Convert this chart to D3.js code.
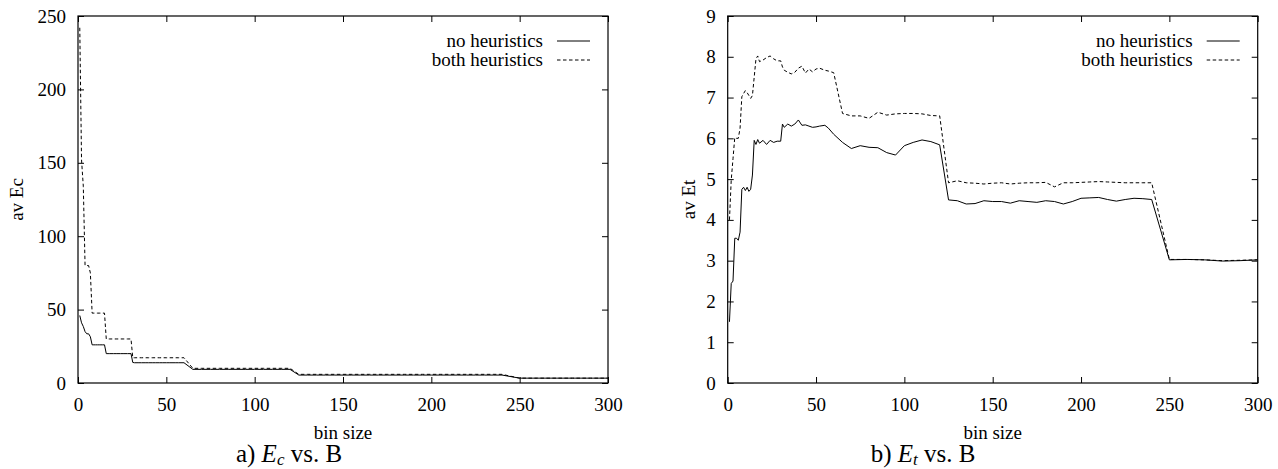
<!DOCTYPE html>
<html>
<head>
<meta charset="utf-8">
<script src="https://cdn.jsdelivr.net/npm/d3@7"></script>
<style>
  html, body { margin: 0; padding: 0; background: #fff; }
  svg { display: block; }
  svg text { font-family: 'Liberation Serif', 'DejaVu Serif', Times, serif !important; fill: #000; }
</style>
</head>
<body>
<svg id="chart" width="1278" height="469" font-family="Liberation Serif"></svg>
<script>
// ---------- data ----------
const binSizes = [1,2,3,4,5,6,7,8,9,10,11,12,13,14,15,16,17,18,20,22,24,26,28,30,31,32,34,36,38,40,42,44,46,48,50,52,55,57,60,
  65,70,75,80,85,90,95,100,105,110,115,120,125,130,135,140,145,150,155,160,165,170,175,180,185,190,195,200,205,210,215,220,225,230,235,240,
  250,260,270,280,290,300];

const noHeurEc = [46,41,38.5,35,33.5,33.5,31.5,26,26,26,26,26,26,26,26,20,20,20,20,20,20,20,20,20,14,13.8,13.8,13.8,13.8,13.8,13.8,13.8,13.8,13.8,13.8,13.8,13.8,13.8,13.8,
  9.3,9.3,9.3,9.3,9.3,9.3,9.3,9.3,9.3,9.3,9.3,9.3,5.4,5.4,5.4,5.4,5.4,5.4,5.4,5.4,5.4,5.4,5.4,5.4,5.4,5.4,5.4,5.4,5.4,5.4,5.4,5.4,5.4,5.4,5.4,5.4,
  3.3,3.3,3.3,3.3,3.3,3.3];

const bothHeurEc = [242,152,134,80,80,80,75,47.6,47.6,47.6,47.6,47.6,47.6,47.6,47.6,30,30,30,30,30,30,30,30,30,17.2,17.2,17.2,17.2,17.2,17.2,17.2,17.2,17.2,17.2,17.2,17.2,17.2,17.2,17.2,
  10,10,10,10,10,10,10,10,10,10,10,10,5.9,5.9,5.9,5.9,5.9,5.9,5.9,5.9,5.9,5.9,5.9,5.9,5.9,5.9,5.9,5.9,5.9,5.9,5.9,5.9,5.9,5.9,5.9,5.9,
  3.3,3.3,3.3,3.3,3.3,3.3];

const noHeurEt = [1.5,2.44,2.5,3.55,3.55,3.5,3.7,4.75,4.8,4.72,4.8,4.7,4.75,5.1,5.95,5.85,5.97,5.88,5.95,5.85,5.95,5.9,5.93,5.93,6.35,6.27,6.35,6.3,6.35,6.45,6.32,6.33,6.3,6.27,6.28,6.3,6.32,6.25,6.1,
  5.9,5.75,5.82,5.78,5.77,5.65,5.59,5.82,5.9,5.96,5.92,5.84,4.49,4.47,4.39,4.4,4.47,4.45,4.45,4.41,4.47,4.45,4.43,4.47,4.45,4.39,4.45,4.53,4.54,4.55,4.5,4.46,4.5,4.53,4.52,4.5,
  3.02,3.03,3.02,2.99,3.0,3.02];

const bothHeurEt = [4.0,4.98,5.5,6.02,6.0,6.0,6.25,7.02,7.1,7.17,7.12,7.05,6.98,7.05,7.5,7.95,8.02,7.88,7.92,7.98,8.02,7.95,7.9,7.9,7.75,7.67,7.62,7.58,7.62,7.72,7.77,7.6,7.7,7.63,7.7,7.72,7.67,7.65,7.61,
  6.61,6.55,6.55,6.49,6.64,6.57,6.6,6.61,6.61,6.6,6.56,6.55,4.91,4.96,4.91,4.9,4.88,4.9,4.91,4.88,4.9,4.91,4.91,4.92,4.81,4.91,4.91,4.92,4.93,4.94,4.93,4.92,4.91,4.91,4.91,4.91,
  3.03,3.03,3.02,3.0,3.01,3.02];

const xTicks = [0,50,100,150,200,250,300];
const yTicksEc = [0,50,100,150,200,250];
const yTicksEt = [0,1,2,3,4,5,6,7,8,9];
const seriesNames = ["no heuristics", "both heuristics"];
const xLabel = "bin size";

// ---------- drawing ----------
const svg = d3.select("#chart");
const FS = 19;
const FONT = "'Liberation Serif', 'DejaVu Serif', serif";

function panel(opts) {
  const { left, right, top, bottom, yMax, yTicks, yLabel, yLabelX, series, capX, capLetter, capSub } = opts;
  const x = d3.scaleLinear().domain([0, 300]).range([left, right]);
  const y = d3.scaleLinear().domain([0, yMax]).range([bottom, top]);
  const g = svg.append("g").attr("font-family", FONT);

  const styleAxis = (sel) => {
    sel.attr("font-family", FONT).attr("font-size", FS);
    sel.select(".domain").remove();
    sel.selectAll(".tick line").attr("stroke", "#000").attr("stroke-width", 1);
    sel.selectAll(".tick text").attr("fill", "#000");
  };

  g.append("g").attr("transform", `translate(0,${bottom})`)
    .call(d3.axisBottom(x).tickValues(xTicks).tickSizeInner(-6).tickSizeOuter(0).tickPadding(14.5))
    .call(styleAxis);
  g.append("g").attr("transform", `translate(0,${top})`)
    .call(d3.axisTop(x).tickValues(xTicks).tickSizeInner(-6).tickSizeOuter(0).tickFormat(""))
    .call(styleAxis);
  g.append("g").attr("transform", `translate(${left},0)`)
    .call(d3.axisLeft(y).tickValues(yTicks).tickSizeInner(-6).tickSizeOuter(0).tickPadding(12))
    .call(styleAxis);
  g.append("g").attr("transform", `translate(${right},0)`)
    .call(d3.axisRight(y).tickValues(yTicks).tickSizeInner(-6).tickSizeOuter(0).tickFormat(""))
    .call(styleAxis);

  const line = d3.line().x((d) => x(d[0])).y((d) => y(d[1]));
  series.forEach((s) => {
    g.append("path")
      .datum(binSizes.map((b, i) => [b, s.values[i]]))
      .attr("d", line)
      .attr("fill", "none")
      .attr("stroke", "#000")
      .attr("stroke-width", 1)
      .attr("stroke-dasharray", s.dash || null);
  });

  g.append("rect")
    .attr("x", left).attr("y", top)
    .attr("width", right - left).attr("height", bottom - top)
    .attr("fill", "none").attr("stroke", "#000").attr("stroke-width", 1.2);

  // legend
  series.forEach((s, i) => {
    const by = 47 + i * 19;
    g.append("text").attr("x", right - 65).attr("y", by)
      .attr("text-anchor", "end").attr("font-size", FS).text(s.name);
    g.append("line")
      .attr("x1", right - 51).attr("x2", right - 18)
      .attr("y1", by - 6).attr("y2", by - 6)
      .attr("stroke", "#000").attr("stroke-width", 1)
      .attr("stroke-dasharray", s.dash || null);
  });

  // axis labels
  g.append("text").attr("x", (left + right) / 2).attr("y", 439)
    .attr("text-anchor", "middle").attr("font-size", FS).text(xLabel);
  g.append("text")
    .attr("transform", `translate(${yLabelX},${(top + bottom) / 2}) rotate(-90)`)
    .attr("text-anchor", "middle").attr("font-size", FS).text(yLabel);

  // caption
  const cap = g.append("text").attr("x", capX).attr("y", 462)
    .attr("text-anchor", "middle").attr("font-size", 25);
  cap.append("tspan").text(capLetter + ") ");
  cap.append("tspan").attr("font-style", "italic").text("E");
  cap.append("tspan").attr("font-style", "italic").attr("font-size", 17).attr("dy", 3).text(capSub);
  cap.append("tspan").attr("dy", -3).text(" vs. B");
}

panel({
  left: 78, right: 608, top: 16, bottom: 383, yMax: 250, yTicks: yTicksEc,
  yLabel: "av Ec", yLabelX: 23,
  series: [
    { name: seriesNames[0], values: noHeurEc },
    { name: seriesNames[1], values: bothHeurEc, dash: "3.5,2.5" }
  ],
  capX: 289, capLetter: "a", capSub: "c"
});

panel({
  left: 727.7, right: 1257.7, top: 16, bottom: 383, yMax: 9, yTicks: yTicksEt,
  yLabel: "av Et", yLabelX: 695,
  series: [
    { name: seriesNames[0], values: noHeurEt },
    { name: seriesNames[1], values: bothHeurEt, dash: "3.5,2.5" }
  ],
  capX: 923, capLetter: "b", capSub: "t"
});
</script>
</body>
</html>
